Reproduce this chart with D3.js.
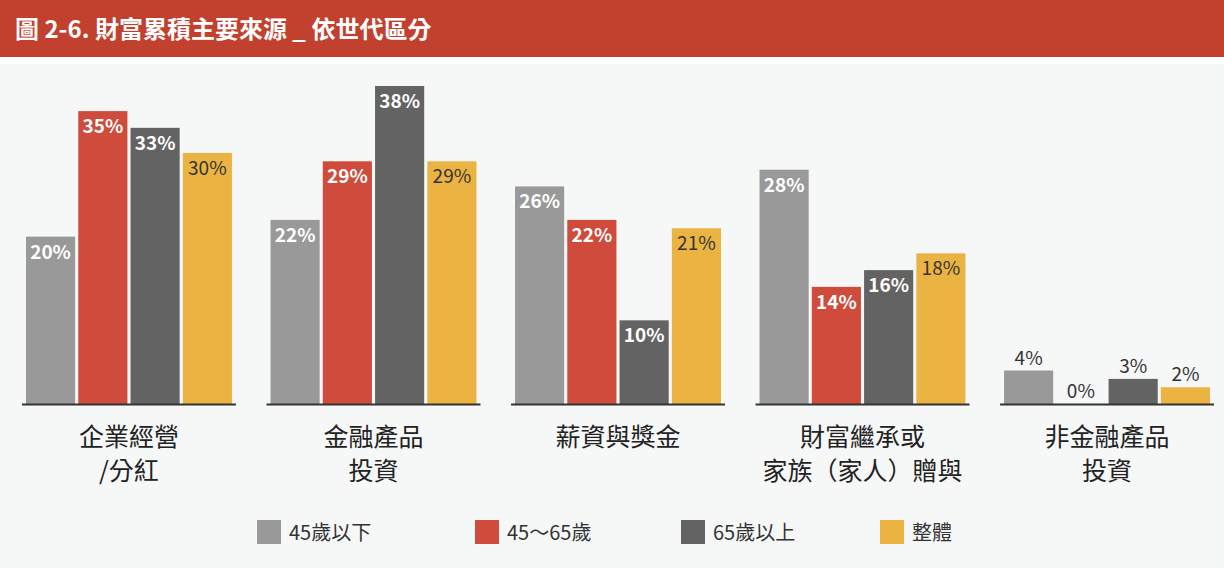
<!DOCTYPE html>
<html><head><meta charset="utf-8">
<script src="https://cdn.jsdelivr.net/npm/d3@7"></script>
<style>body{margin:0;background:#f6f7f7}svg{display:block}</style>
</head><body><div id="chart"></div>
<script>
var categories = [["企業經營","/分紅"],["金融產品","投資"],["薪資與獎金"],["財富繼承或","家族（家人）贈與"],["非金融產品","投資"]]
var seriesNames = ["45歲以下","45～65歲","65歲以上","整體"]
var under45 = [20,22,26,28,4]
var mid45to65 = [35,29,22,14,0]
var over65 = [33,38,10,16,3]
var overall = [30,29,21,18,2]
var colors = ["#999999","#cf4b3b","#636363","#ebb342"]

var width = 1224, height = 568
var baseY = 404
var font = "'Noto Sans CJK TC', sans-serif"

var svg = d3.select("#chart").append("svg").attr("width", width).attr("height", height)

// header
svg.append("rect").attr("width", width).attr("height", 57).attr("fill", "#c2402e")
svg.append("rect").attr("y", 57).attr("width", width).attr("height", 7).attr("fill", "#ffffff")
svg.append("text").attr("x", 15).attr("y", 38).attr("fill", "#fff")
    .attr("font-family", font).attr("font-weight", "bold").attr("font-size", 24)
    .text("圖 2-6. 財富累積主要來源 _ 依世代區分")

var series = [under45, mid45to65, over65, overall]

var x0 = d3.scaleBand().domain(d3.range(categories.length)).range([22, 1214]).paddingInner(0.125).paddingOuter(0)
var x1 = d3.scaleBand().domain(d3.range(series.length)).range([4, x0.bandwidth() - 4]).paddingInner(0.06)
var y = d3.scaleLinear().domain([0, 38]).range([baseY, 86])

var g = svg.selectAll("g.grp").data(categories).enter().append("g")
    .attr("transform", (d, i) => "translate(" + x0(i) + ",0)")

g.each(function(cat, i) {
    var gg = d3.select(this)
    series.forEach(function(s, j) {
        var v = s[i]
        var top = y(v)
        gg.append("rect").attr("x", x1(j)).attr("y", top).attr("width", x1.bandwidth())
            .attr("height", baseY - top).attr("fill", colors[j])
        var inside = v >= 8
        gg.append("text").attr("x", x1(j) + x1.bandwidth() / 2)
            .attr("y", inside ? top + 22 : top - 6)
            .attr("text-anchor", "middle").attr("font-family", font).attr("font-size", 19)
            .attr("font-weight", inside && j != 3 ? "bold" : "normal")
            .attr("fill", inside && j != 3 ? "#fff" : "#333")
            .text(v + "%")
    })
    gg.append("line").attr("x1", 0).attr("x2", x0.bandwidth()).attr("y1", baseY + 0.5).attr("y2", baseY + 0.5)
        .attr("stroke", "#333").attr("stroke-width", 2)
    cat.forEach(function(line, k) {
        gg.append("text").attr("x", x0.bandwidth() / 2).attr("y", 446 + k * 34)
            .attr("text-anchor", "middle").attr("font-family", font).attr("font-size", 25)
            .attr("fill", "#222").text(line)
    })
})

var legendX = [257, 475, 681, 880]
seriesNames.forEach(function(n, j) {
    svg.append("rect").attr("x", legendX[j]).attr("y", 520).attr("width", 24).attr("height", 24).attr("fill", colors[j])
    svg.append("text").attr("x", legendX[j] + 32).attr("y", 540).attr("font-family", font)
        .attr("font-size", 20).attr("fill", "#333").text(n)
})
</script></body></html>
